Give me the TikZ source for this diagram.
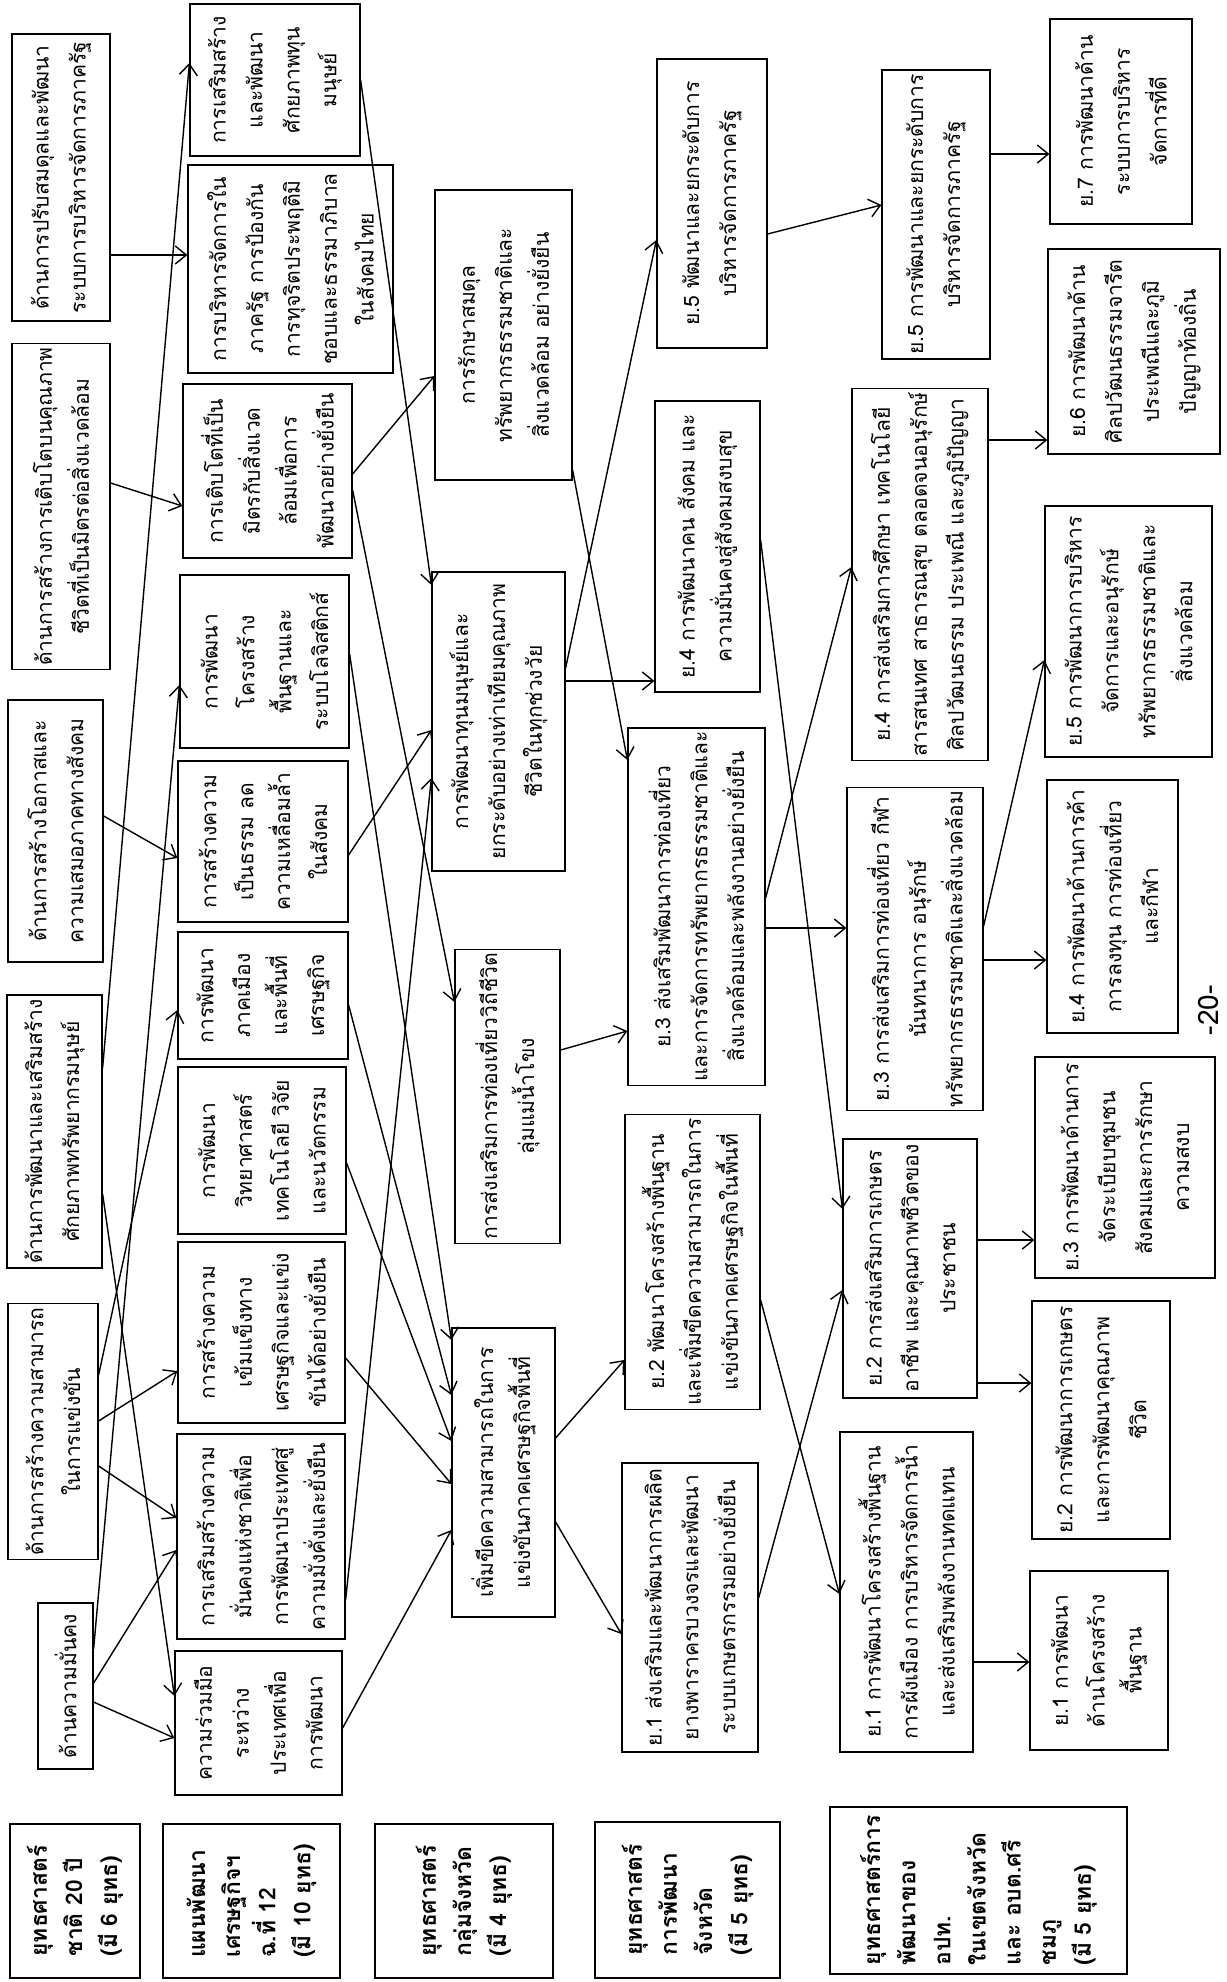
\documentclass[tikz,border=0pt]{standalone}
\usepackage{fontspec}
\newfontfamily\thaifont[Script=Thai]{Loma}
\usepackage{tikz}
\usetikzlibrary{arrows.meta}
\tikzset{
  stratbox/.style={draw, line width=0.7pt, rotate=90, align=center, inner sep=2pt, font=\thaifont\fontsize{12}{21}\selectfont},
  boxsize/.style 2 args={minimum width=#1*0.02cm, minimum height=#2*0.02cm},
  rowlabel/.style={stratbox, align=left, font=\thaifont\bfseries\fontsize{13}{20}\selectfont},
  linkarrow/.style={-{Straight Barb[length=2.2mm,width=3.6mm]}, line width=0.8pt}
}

\begin{document}
\begin{tikzpicture}[x=0.02cm, y=-0.02cm]
  \path[use as bounding box, fill=white] (0,0) rectangle (1227,1982);

  % national strategy
  \node[stratbox, boxsize={287}{98}] (a6) at (61,177.5) {ด้านการปรับสมดุลและพัฒนา\\ระบบการบริหารจัดการภาครัฐ};
  \node[stratbox, boxsize={317}{98}] (a5) at (61,506.5) {ด้านการสร้างการเติบโตบนคุณภาพ\\ชีวิตที่เป็นมิตรต่อสิ่งแวดล้อม};
  \node[stratbox, boxsize={262}{95}] (a4) at (55.5,831) {ด้านการสร้างโอกาสและ\\ความเสมอภาคทางสังคม};
  \node[stratbox, boxsize={273}{95}] (a3) at (54.5,1131.5) {ด้านการพัฒนาและเสริมสร้าง\\ศักยภาพทรัพยากรมนุษย์};
  \node[stratbox, boxsize={253}{90}] (a2) at (53,1431.5) {ด้านการสร้างความสามารถ\\ในการแข่งขัน};
  \node[stratbox, boxsize={166}{55}] (a1) at (65.5,1686) {ด้านความมั่นคง};

  % 12th plan
  \node[stratbox, boxsize={152}{170}] (b10) at (275,80) {การเสริมสร้าง\\และพัฒนา\\ศักยภาพทุน\\มนุษย์};
  \node[stratbox, boxsize={208}{205}] (b9) at (290.5,269) {การบริหารจัดการใน\\ภาครัฐ การป้องกัน\\การทุจริตประพฤติมิ\\ชอบและธรรมาภิบาล\\ในสังคมไทย};
  \node[stratbox, boxsize={174}{169}] (b8) at (267.5,471) {การเติบโตที่เป็น\\มิตรกับสิ่งแวด\\ล้อมเพื่อการ\\พัฒนาอย่างยั่งยืน};
  \node[stratbox, boxsize={173}{169}] (b7) at (264.5,661.5) {การพัฒนา\\โครงสร้าง\\พื้นฐานและ\\ระบบโลจิสติกส์};
  \node[stratbox, boxsize={161}{170}] (b6) at (263,841.5) {การสร้างความ\\เป็นธรรม ลด\\ความเหลื่อมล้ำ\\ในสังคม};
  \node[stratbox, boxsize={127}{170}] (b5) at (263,995.5) {การพัฒนา\\ภาคเมือง\\และพื้นที่\\เศรษฐกิจ};
  \node[stratbox, boxsize={167}{168}] (b4) at (262,1150.5) {การพัฒนา\\วิทยาศาสตร์\\เทคโนโลยี วิจัย\\และนวัตกรรม};
  \node[stratbox, boxsize={181}{167}] (b3) at (261.5,1332.5) {การสร้างความ\\เข้มแข็งทาง\\เศรษฐกิจและแข่ง\\ขันได้อย่างยั่งยืน};
  \node[stratbox, boxsize={205}{168}] (b2) at (261,1536.5) {การเสริมสร้างความ\\มั่นคงแห่งชาติเพื่อ\\การพัฒนาประเทศสู่\\ความมั่งคั่งและยั่งยืน};
  \node[stratbox, boxsize={144}{167}] (b1) at (258.5,1723) {ความร่วมมือ\\ระหว่าง\\ประเทศเพื่อ\\การพัฒนา};

  % province group
  \node[stratbox, boxsize={290}{137}] (c4) at (503.5,335) {การรักษาสมดุล\\ทรัพยากรธรรมชาติและ\\สิ่งแวดล้อม อย่างยั่งยืน};
  \node[stratbox, boxsize={299}{133}] (c3) at (498.5,721.5) {การพัฒนาทุนมนุษย์และ\\ยกระดับอย่างเท่าเทียมคุณภาพ\\ชีวิตในทุกช่วงวัย};
  \node[stratbox, boxsize={291}{105}] (c2) at (507.5,1096.5) {การส่งเสริมการท่องเที่ยววิถีชีวิต\\ลุ่มแม่น้ำโขง};
  \node[stratbox, boxsize={289}{103}] (c1) at (503.5,1472.5) {เพิ่มขีดความสามารถในการ\\แข่งขันภาคเศรษฐกิจพื้นที่};

  % province
  \node[stratbox, boxsize={289}{110}] (d5) at (712,203.5) {ย.5 พัฒนาและยกระดับการ\\บริหารจัดการภาครัฐ};
  \node[stratbox, boxsize={291}{105}] (d4) at (707.5,546.5) {ย.4 การพัฒนาคน สังคม และ\\ความมั่นคงสู่สังคมสงบสุข};
  \node[stratbox, boxsize={321}{137}] (d3) at (696.5,906.5) {ย.3 ส่งเสริมพัฒนาการท่องเที่ยว\\และการจัดการทรัพยากรธรรมชาติและ\\สิ่งแวดล้อมและพลังงานอย่างยั่งยืน};
  \node[stratbox, boxsize={288}{135}] (d2) at (692.5,1262) {ย.2 พัฒนาโครงสร้างพื้นฐาน\\และเพิ่มขีดความสามารถในการ\\แข่งขันภาคเศรษฐกิจในพื้นที่};
  \node[stratbox, boxsize={289}{136}] (d1) at (690,1607.5) {ย.1 ส่งเสริมและพัฒนาการผลิต\\ยางพาราครบวงจรและพัฒนา\\ระบบเกษตรกรรมอย่างยั่งยืน};

  % local government
  \node[stratbox, boxsize={289}{108}] (e5) at (936,214.5) {ย.5 การพัฒนาและยกระดับการ\\บริหารจัดการภาครัฐ};
  \node[stratbox, boxsize={369}{136}] (e4) at (920,574.5) {ย.4 การส่งเสริมการศึกษา เทคโนโลยี\\สารสนเทศ สาธารณสุข ตลอดจนอนุรักษ์\\ศิลปวัฒนธรรม ประเพณี และภูมิปัญญา};
  \node[stratbox, boxsize={320}{136}] (e3) at (915,949) {ย.3 การส่งเสริมการท่องเที่ยว กีฬา\\นันทนาการ อนุรักษ์\\ทรัพยากรธรรมชาติและสิ่งแวดล้อม};
  \node[stratbox, boxsize={259}{134}] (e2) at (910,1268.5) {ย.2 การส่งเสริมการเกษตร\\อาชีพ และคุณภาพชีวิตของ\\ประชาชน};
  \node[stratbox, boxsize={320}{133}] (e1) at (906.5,1592) {ย.1 การพัฒนาโครงสร้างพื้นฐาน\\การผังเมือง การบริหารจัดการน้ำ\\และส่งเสริมพลังงานทดแทน};

  % sub-district
  \node[stratbox, boxsize={205}{142}] (f7) at (1121,121.5) {ย.7 การพัฒนาด้าน\\ระบบการบริหาร\\จัดการที่ดี};
  \node[stratbox, boxsize={205}{172}] (f6) at (1134,351.5) {ย.6 การพัฒนาด้าน\\ศิลปวัฒนธรรมจารีต\\ประเพณีและภูมิ\\ปัญญาท้องถิ่น};
  \node[stratbox, boxsize={251}{167}] (f5) at (1128.5,631.5) {ย.5 การพัฒนาการบริหาร\\จัดการและอนุรักษ์\\ทรัพยากรธรรมชาติและ\\สิ่งแวดล้อม};
  \node[stratbox, boxsize={253}{131}] (f4) at (1112.5,906.5) {ย.4 การพัฒนาด้านการค้า\\การลงทุน การท่องเที่ยว\\และกีฬา};
  \node[stratbox, boxsize={221}{180}] (f3) at (1125,1167.5) {ย.3 การพัฒนาด้านการ\\จัดระเบียบชุมชน\\สังคมและการรักษา\\ความสงบ};
  \node[stratbox, boxsize={238}{138}] (f2) at (1101,1420) {ย.2 การพัฒนาการเกษตร\\และการพัฒนาคุณภาพ\\ชีวิต};
  \node[stratbox, boxsize={179}{138}] (f1) at (1099,1660.5) {ย.1 การพัฒนา\\ด้านโครงสร้าง\\พื้นฐาน};

  % row labels
  \node[rowlabel, boxsize={154}{130}] (l1) at (75,1901) {ยุทธศาสตร์\\ชาติ 20 ปี\\(มี 6 ยุทธ)};
  \node[rowlabel, boxsize={154}{177}] (l2) at (251.5,1901) {แผนพัฒนา\\เศรษฐกิจฯ\\ฉ.ที่ 12\\(มี 10 ยุทธ)};
  \node[rowlabel, boxsize={154}{178}] (l3) at (464,1901) {ยุทธศาสตร์\\กลุ่มจังหวัด\\(มี 4 ยุทธ)};
  \node[rowlabel, boxsize={156}{185}] (l4) at (687.5,1900) {ยุทธศาสตร์\\การพัฒนา\\จังหวัด\\(มี 5 ยุทธ)};
  \node[rowlabel, boxsize={167}{297}] (l5) at (978.5,1890.5) {ยุทธศาสตร์การ\\พัฒนาของ\\อปท.\\ในเขตจังหวัด\\และ อบต.ศรี\\ชมภู\\(มี 5 ยุทธ)};

  \node[rotate=90, font=\thaifont\fontsize{16}{16}\selectfont] (pagenum) at (1208,1010) {-20-};

  \foreach \u/\yu/\v/\yv in {a6/255/b9/255, a5/483/b8/506, a4/816/b6/858, a3/1068/b10/63,
      a3/1194/b1/1696, a2/1375/b5/1010, a2/1421/b3/1371, a2/1466/b2/1518,
      a1/1649/b7/685, a1/1683/b2/1550, a1/1702/b1/1738} {
    \draw[linkarrow] (\u.south |- 0,\yu) -- (\v.north |- 0,\yv);
  }
  \foreach \u/\yu/\v/\yv in {b10/80/c3/585, b8/474/c4/376, b8/490/c2/1002, b6/855/c3/730,
      b2/1600/c3/778, b7/654/c1/1340, b5/1005/c1/1395, b4/1163/c1/1441,
      b3/1358/c1/1484, b1/1728/c1/1530} {
    \draw[linkarrow] (\u.south |- 0,\yu) -- (\v.north |- 0,\yv);
  }
  \foreach \u/\yu/\v/\yv in {c4/470/d3/760, c3/668/d5/240, c3/681/d4/681, c2/1050/d3/1031,
      c1/1438/d2/1360, c1/1522/d1/1634} {
    \draw[linkarrow] (\u.south |- 0,\yu) -- (\v.north |- 0,\yv);
  }
  \foreach \u/\yu/\v/\yv in {d5/234/e5/205, d4/540/e2/1209, d3/898/e4/567, d3/928/e3/928,
      d2/1300/e1/1594, d1/1598/e2/1290} {
    \draw[linkarrow] (\u.south |- 0,\yu) -- (\v.north |- 0,\yv);
  }
  \foreach \u/\yu/\v/\yv in {e5/154/f7/154, e4/440/f6/440, e3/926/f5/660, e3/960/f4/960,
      e2/1240/f3/1240, e2/1383/f2/1383, e1/1662/f1/1662} {
    \draw[linkarrow] (\u.south |- 0,\yu) -- (\v.north |- 0,\yv);
  }
\end{tikzpicture}
\end{document}
